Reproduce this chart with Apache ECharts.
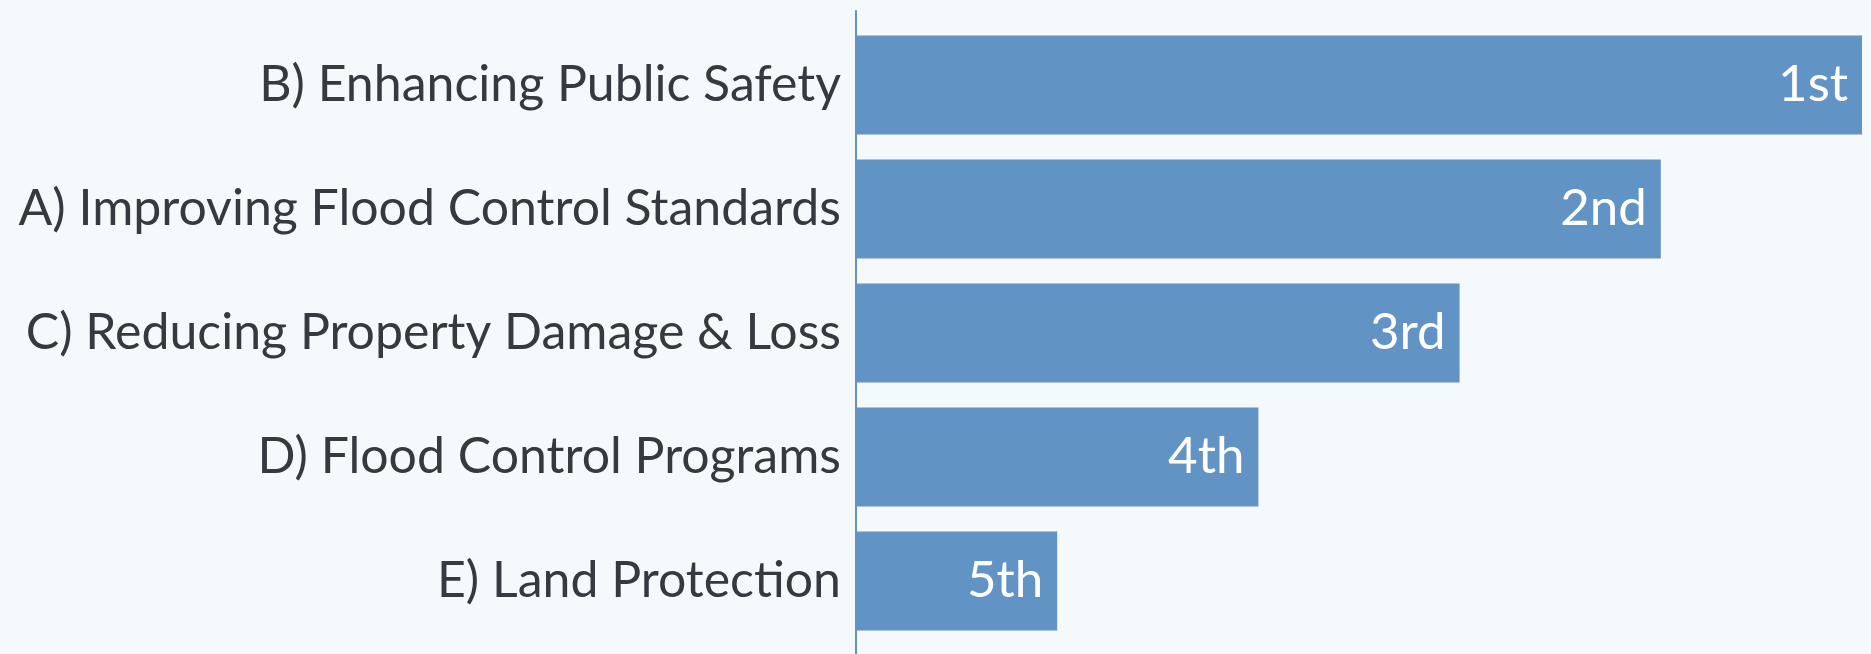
<!DOCTYPE html>
<html style="height: 100%">
<head>
    <meta charset="UTF-8">
    <script src="https://cdn.jsdelivr.net/npm/echarts@6/dist/echarts.min.js"></script>
</head>
<body style="margin: 0; background-color: #f5f9fc">
    <div id="paint" style="width: 1871px; height: 654px;"></div>
<script>
    // categories, top to bottom
    var categories = [
        'B) Enhancing Public Safety',
        'A) Improving Flood Control Standards',
        'C) Reducing Property Damage & Loss',
        'D) Flood Control Programs',
        'E) Land Protection'
    ];
    var scores = [5, 4, 3, 2, 1];
    var rankLabels = ['1st', '2nd', '3rd', '4th', '5th'];

    var font = 'Lato';
    var barColor = '#6194c5';

    echarts.init(document.getElementById('paint')).setOption({
        backgroundColor: '#f5f9fc',
        animation: false,
        grid: [
            // outer grid: only carries the full-height axis line
            { left: 856, right: 9, top: 11, bottom: 0 },
            // bars
            { left: 856, right: 9, top: 23, bottom: 11 }
        ],
        xAxis: [
            { gridIndex: 0, type: 'value', min: 0, max: 5, show: false },
            { gridIndex: 1, type: 'value', min: 0, max: 5, show: false }
        ],
        yAxis: [
            {
                gridIndex: 0,
                type: 'category',
                data: categories,
                inverse: true,
                axisLine: { show: true, lineStyle: { color: barColor, width: 2 } },
                axisTick: { show: false },
                axisLabel: { show: false },
                splitLine: { show: false }
            },
            {
                gridIndex: 1,
                type: 'category',
                data: categories,
                inverse: true,
                axisLine: { show: false },
                axisTick: { show: false },
                axisLabel: {
                    margin: 15,
                    fontFamily: font,
                    fontSize: 50,
                    color: '#343a40'
                }
            }
        ],
        series: [
            {
                type: 'bar',
                xAxisIndex: 1,
                yAxisIndex: 1,
                data: scores,
                barCategoryGap: '20%',
                itemStyle: { color: barColor },
                label: {
                    show: true,
                    position: 'insideRight',
                    distance: 14,
                    fontFamily: font,
                    fontSize: 51,
                    color: '#ffffff',
                    formatter: function (p) {
                        return rankLabels[p.dataIndex];
                    }
                }
            }
        ]
    });
</script>
</body>
</html>
